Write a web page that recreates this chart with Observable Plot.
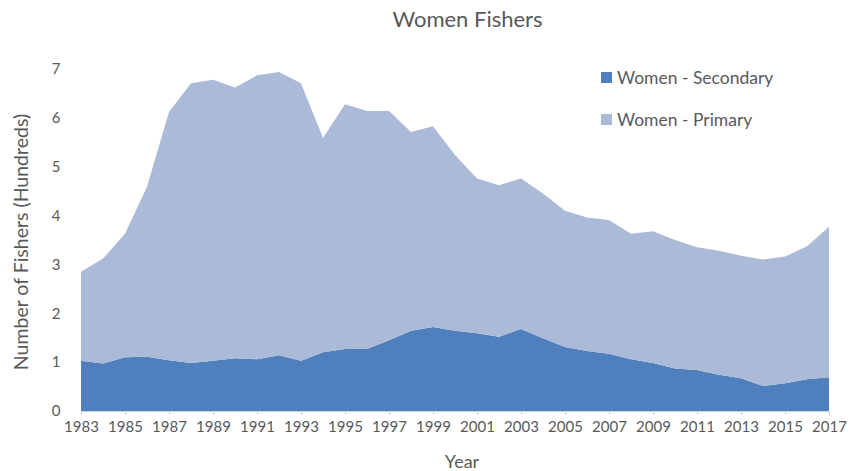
<!DOCTYPE html>
<html>
<head>
<meta charset="utf-8">
<script src="https://cdn.jsdelivr.net/npm/d3@7"></script>
<script src="https://cdn.jsdelivr.net/npm/@observablehq/plot@0.6"></script>
<style>
  html, body { margin: 0; padding: 0; background: #fff; }
  #wrap { position: relative; width: 855px; height: 471px; font-family: Lato, "Open Sans", sans-serif; color: #595959; }
  #title { position: absolute; left: 0; width: 935px; top: 5px; text-align: center; font-size: 22px; }
  #legend { position: absolute; left: 601px; top: 66px; font-size: 17.5px; }
  .item { display: flex; align-items: center; height: 22px; margin-bottom: 20px; }
  .sw { width: 11px; height: 11px; margin-right: 5px; }
  #ytitle { position: absolute; left: 20px; top: 242px; transform: translate(-50%, -50%) rotate(-90deg); font-size: 19.5px; white-space: nowrap; }
  #xtitle { position: absolute; left: 462px; top: 461px; transform: translate(-50%, -50%); font-size: 18px; line-height: 18px; }
</style>
</head>
<body>
<div id="wrap">
  <div id="chart"></div>
  <div id="title">Women Fishers</div>
  <div id="legend"></div>
  <div id="ytitle">Number of Fishers (Hundreds)</div>
  <div id="xtitle">Year</div>
</div>
<script>
const years = [1983,1984,1985,1986,1987,1988,1989,1990,1991,1992,1993,1994,1995,1996,1997,1998,1999,2000,2001,2002,2003,2004,2005,2006,2007,2008,2009,2010,2011,2012,2013,2014,2015,2016,2017];
const secondary = [1.03,0.97,1.10,1.11,1.04,0.98,1.03,1.08,1.06,1.14,1.03,1.20,1.27,1.27,1.45,1.64,1.72,1.64,1.59,1.52,1.68,1.49,1.31,1.23,1.17,1.06,0.98,0.87,0.84,0.74,0.67,0.51,0.57,0.65,0.69];
const primary = [1.82,2.15,2.53,3.48,5.08,5.73,5.75,5.54,5.81,5.80,5.68,4.39,5.01,4.87,4.69,4.07,4.11,3.60,3.17,3.10,3.08,2.96,2.79,2.73,2.74,2.57,2.70,2.63,2.51,2.54,2.51,2.59,2.59,2.72,3.08];
const seriesNames = ["Women - Secondary", "Women - Primary"];
const seriesColors = ["#4f7fbc", "#abbad7"];
const yTicks = [0,1,2,3,4,5,6,7];
const xTicks = [1983,1985,1987,1989,1991,1993,1995,1997,1999,2001,2003,2005,2007,2009,2011,2013,2015,2017];

const rows = [];
years.forEach((yr, i) => {
  rows.push({year: yr, series: seriesNames[0], value: secondary[i]});
  rows.push({year: yr, series: seriesNames[1], value: primary[i]});
});

const chart = Plot.plot({
  width: 855,
  height: 471,
  marginTop: 69,
  marginBottom: 60,
  marginLeft: 81,
  marginRight: 26,
  style: {fontFamily: "Lato, 'Open Sans', sans-serif", fontSize: "15px", color: "#595959", background: "#fff"},
  x: {domain: [1983, 2017], label: null},
  y: {domain: [0, 7], label: null},
  color: {domain: seriesNames, range: seriesColors},
  marks: [
    Plot.areaY(rows, {x: "year", y: "value", fill: "series", order: seriesNames}),
    Plot.ruleY([0], {stroke: "#d0d6e0"}),
    Plot.axisY({ticks: yTicks, tickSize: 0, tickPadding: 21, tickFormat: d => String(d), fontSize: 15, fill: "#595959"}),
    Plot.axisX({ticks: xTicks, tickSize: 4, tickPadding: 6, tickFormat: d => String(d), stroke: "#d0d6e0", fontSize: 15, fill: "#595959"})
  ]
});
document.getElementById("chart").appendChild(chart);

const legend = document.getElementById("legend");
seriesNames.forEach((n, i) => {
  const d = document.createElement("div");
  d.className = "item";
  d.innerHTML = `<div class="sw" style="background:${seriesColors[i]}"></div><span>${n}</span>`;
  legend.appendChild(d);
});
</script>
</body>
</html>
